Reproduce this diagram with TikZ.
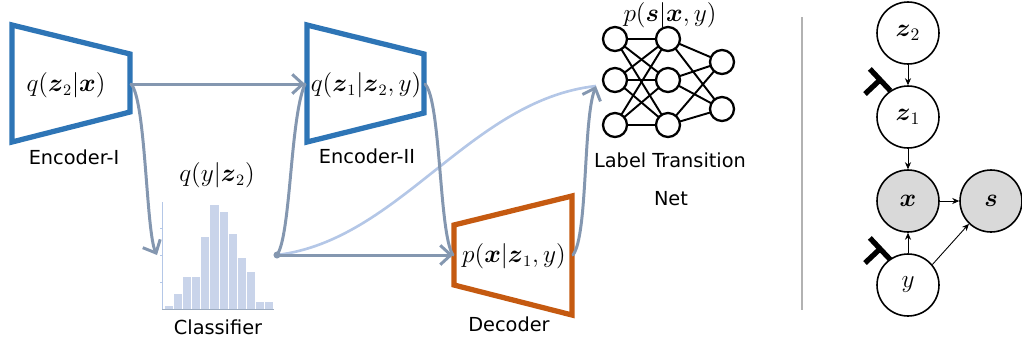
\documentclass[tikz,border=0pt]{standalone}
\usepackage[no-math]{fontspec}
\setmainfont{DejaVu Sans}
\usepackage{amsmath}
\usetikzlibrary{arrows.meta}

\definecolor{encblue}{RGB}{46,117,182}
\definecolor{decorange}{RGB}{197,90,17}
\definecolor{flowgray}{RGB}{132,151,176}
\definecolor{flowlight}{RGB}{180,199,231}
\definecolor{barfill}{RGB}{201,212,234}
\definecolor{axisblue}{RGB}{180,199,231}
\definecolor{obsgray}{RGB}{217,217,217}

\begin{document}
\begin{tikzpicture}[x=0.02cm, y=-0.02cm,
    encoder/.style={draw=encblue, line width=3pt, line join=miter},
    decoder/.style={draw=decorange, line width=3pt, line join=miter},
    caption/.style={font=\fontsize{11}{13}\selectfont, inner sep=0pt},
    dist/.style={font=\fontsize{13.5}{16}\selectfont, inner sep=0pt},
    flow/.style={draw=flowgray, line width=1.7pt, line cap=round,
        -{Straight Barb[length=6pt, width=11pt]}},
    link/.style={draw=flowgray, line width=1.7pt, line cap=round},
    bar/.style={fill=barfill, draw=white, line width=0.4pt},
    neuron/.style={circle, draw=black, line width=1.3pt, fill=white,
        minimum size=0.48cm, inner sep=0pt},
    synapse/.style={black, line width=1.1pt},
    latent/.style={circle, draw=black, line width=0.9pt, fill=white,
        minimum size=1.24cm, inner sep=0pt, font=\fontsize{14}{16}\selectfont},
    observed/.style={latent, fill=obsgray},
    dep/.style={black, line width=0.5pt, -{Stealth[length=4pt, width=3.5pt]}},
    tack/.style={black, line width=3pt, -{Bar[width=17pt]}}
]
    \useasboundingbox (0,0) rectangle (1022,346);

    \draw[encoder] (12,25) -- (130,54) -- (130,112) -- (12,142) -- cycle;
    \draw[encoder] (307,25) -- (424,54) -- (424,113) -- (307,142) -- cycle;
    \draw[decoder] (454,225) -- (572,196) -- (572,315) -- (454,285) -- cycle;

    \coordinate (e1r) at (131,84);
    \coordinate (e2l) at (305,84);
    \coordinate (e2r) at (425,84);
    \coordinate (decl) at (453,255);
    \coordinate (decr) at (573,255);
    \coordinate (clsin) at (157,255);
    \coordinate (clsout) at (277,255);
    \coordinate (nnin) at (596,86);

    \node[dist] (q1) at (66,85) {$q(\boldsymbol{z}_2|\boldsymbol{x})$};
    \node[dist] (q2) at (366,85) {$q(\boldsymbol{z}_1|\boldsymbol{z}_2,y)$};
    \node[dist] (pd) at (514,256) {$p(\boldsymbol{x}|\boldsymbol{z}_1,y)$};
    \node[dist] (qy) at (217,175) {$q(y|\boldsymbol{z}_2)$};
    \node[dist] (ps) at (670,15) {$p(\boldsymbol{s}|\boldsymbol{x},y)$};

    \node[caption] (enc1) at (74,157) {Encoder-I};
    \node[caption] (enc2) at (367,156) {Encoder-II};
    \node[caption] (dec) at (509,324) {Decoder};
    \node[caption] (cls) at (218,327) {Classifier};
    \node[caption] (ltn) at (670,160) {Label Transition};
    \node[caption] (net) at (671,199) {Net};

    \draw[axisblue, line width=0.4pt] (162,202) -- (162,309);
    \draw[axisblue, line width=0.4pt] (160,228) -- (162,228);
    \draw[axisblue, line width=0.4pt] (160,255) -- (162,255);
    \draw[axisblue, line width=0.4pt] (160,282) -- (162,282);
    \draw[bar] (164.3,309) rectangle ++(9.1,-3.7);
    \draw[bar] (173.4,309) rectangle ++(9.1,-16);
    \draw[bar] (182.5,309) rectangle ++(9.1,-32.7);
    \draw[bar] (191.6,309) rectangle ++(9.1,-32.7);
    \draw[bar] (200.7,309) rectangle ++(9.1,-72.7);
    \draw[bar] (209.8,309) rectangle ++(9.1,-104.3);
    \draw[bar] (218.9,309) rectangle ++(9.1,-97.7);
    \draw[bar] (228.0,309) rectangle ++(9.1,-75.3);
    \draw[bar] (237.1,309) rectangle ++(9.1,-52);
    \draw[bar] (246.2,309) rectangle ++(9.1,-37.3);
    \draw[bar] (255.3,309) rectangle ++(9.1,-8);
    \draw[bar] (264.4,309) rectangle ++(9.1,-8);
    \draw[flowgray!80, line width=0.6pt] (162,309.3) -- (274,309.3);

    \draw[synapse] (615,39) -- (668,39);
    \draw[synapse] (615,39) -- (668,80);
    \draw[synapse] (615,39) -- (668,125);
    \draw[synapse] (615,80) -- (668,39);
    \draw[synapse] (615,80) -- (668,80);
    \draw[synapse] (615,80) -- (668,125);
    \draw[synapse] (615,125) -- (668,39);
    \draw[synapse] (615,125) -- (668,80);
    \draw[synapse] (615,125) -- (668,125);
    \draw[synapse] (668,39) -- (722,62);
    \draw[synapse] (668,39) -- (722,109);
    \draw[synapse] (668,80) -- (722,62);
    \draw[synapse] (668,80) -- (722,109);
    \draw[synapse] (668,125) -- (722,62);
    \draw[synapse] (668,125) -- (722,109);
    \node[neuron] (n11) at (615,39) {};
    \node[neuron] (n12) at (615,80) {};
    \node[neuron] (n13) at (615,125) {};
    \node[neuron] (n21) at (668,39) {};
    \node[neuron] (n22) at (668,80) {};
    \node[neuron] (n23) at (668,125) {};
    \node[neuron] (n31) at (722,62) {};
    \node[neuron] (n32) at (722,109) {};

    \draw[flowlight, line width=1.5pt] (clsout) .. controls (400,240) and (470,100) .. (nnin);
    \draw[flow] (e1r) -- (e2l);
    \draw[flow] (e1r) .. controls (146,100) and (146,232) .. (clsin);
    \draw[link] (clsout) .. controls (291,235) and (290,118) .. (e2l);
    \draw[flow] (clsout) -- (decl);
    \draw[link] (e2r) .. controls (441,100) and (439,235) .. (decl);
    \draw[flow] (decr) .. controls (588,235) and (583,120) .. (nnin);
    \fill[flowgray] (clsout) circle (2pt);

    \draw[black!30, line width=0.6pt] (802,17) -- (802,310);

    \node[latent] (gz2) at (908,33) {$\boldsymbol{z}_2$};
    \node[latent] (gz1) at (908,117) {$\boldsymbol{z}_1$};
    \node[observed] (gx) at (908,201) {$\boldsymbol{x}$};
    \node[observed] (gs) at (991,201) {$\boldsymbol{s}$};
    \node[latent] (gy) at (908,285) {$y$};
    \draw[dep] (gz2) -- (gz1);
    \draw[dep] (gz1) -- (gx);
    \draw[dep] (gy) -- (gx);
    \draw[dep] (gx) -- (gs);
    \draw[dep] (gy.40) -- (gs.226);
    \draw[tack] (865,94) -- (882,78);
    \draw[tack] (865,263) -- (882,247);
\end{tikzpicture}
\end{document}
